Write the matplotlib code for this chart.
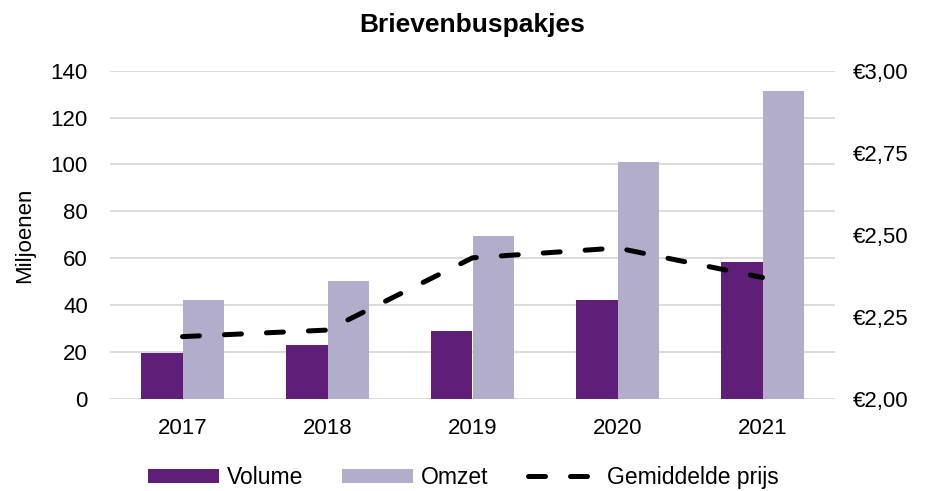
import matplotlib
matplotlib.use("Agg")
import matplotlib.pyplot as plt
import numpy as np
from matplotlib.ticker import FuncFormatter

plt.rcParams['font.family'] = ['Liberation Sans', 'DejaVu Sans']

jaren = ['2017', '2018', '2019', '2020', '2021']
volume = [19.5, 23.1, 28.8, 42.4, 58.4]      # miljoenen
omzet = [42.1, 50.4, 69.6, 101.0, 131.3]     # miljoenen euro
prijs = [2.19, 2.21, 2.43, 2.46, 2.37]       # euro per pakje

kleur_volume = '#5F1F78'
kleur_omzet = '#B1ADCB'
grid_kleur = '#D9D9D9'

fig = plt.figure(figsize=(9.26, 4.91), dpi=100)
ax = fig.add_axes([110/926, 92/491, 725/926, 328.3/491])
ax2 = ax.twinx()

x = np.arange(len(jaren))
w = 0.285
b1 = ax.bar(x - w/2, volume, w, color=kleur_volume, zorder=2, label='Volume')
b2 = ax.bar(x + w/2, omzet, w, color=kleur_omzet, zorder=2, label='Omzet')

# gemiddelde prijs op de rechteras
lijn, = ax2.plot(x, prijs, color='black', lw=3.6, dashes=(3.4, 5.0),
                 dash_capstyle='round', label='Gemiddelde prijs')

ax.set_xlim(-0.5, len(jaren) - 0.5)
ax.set_ylim(0, 140)
ax.set_yticks(range(0, 141, 20))
ax2.set_ylim(2.0, 3.0)
ax2.set_yticks([2.0, 2.25, 2.5, 2.75, 3.0])
ax2.yaxis.set_major_formatter(FuncFormatter(lambda v, p: '€' + f'{v:.2f}'.replace('.', ',')))

ax.set_xticks(x)
ax.set_xticklabels(jaren)
ax.grid(axis='y', color=grid_kleur, lw=1.3, zorder=0)
ax.set_axisbelow(True)

for a in (ax, ax2):
    for s in a.spines.values():
        s.set_visible(False)
ax.tick_params(axis='y', length=0, labelsize=16, pad=16)
ax.tick_params(axis='x', length=0, labelsize=16, pad=14)
ax2.tick_params(axis='y', length=0, labelsize=16, pad=13)

ax.set_ylabel('Miljoenen', fontsize=16, labelpad=11)
ax.set_title('Brievenbuspakjes', fontsize=19, fontweight='bold', pad=28)

fig.legend(handles=[b1, b2, lijn], loc='lower center', bbox_to_anchor=(0.5, -0.038),
           ncol=3, frameon=False, fontsize=16.5, handlelength=3.1, handleheight=0.6,
           handletextpad=0.35, columnspacing=1.7)

fig.savefig('out.png', dpi=100)
